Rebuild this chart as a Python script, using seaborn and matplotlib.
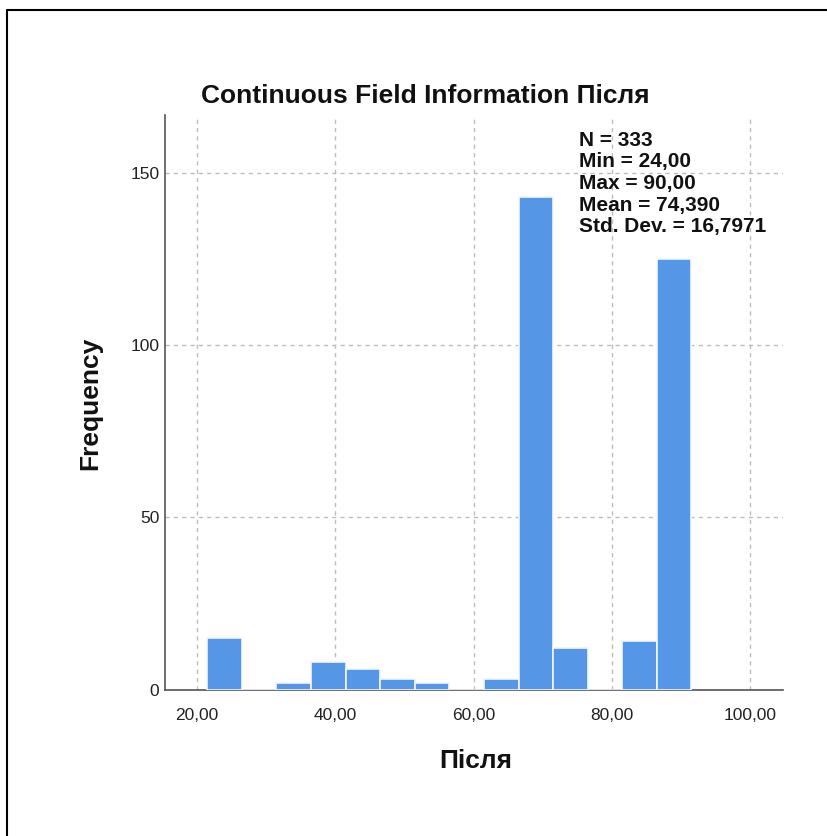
import matplotlib
matplotlib.use("Agg")
import matplotlib.pyplot as plt
import seaborn as sns
from matplotlib.lines import Line2D

# ---- data ----
bin_edges = [21.5, 26.5, 31.5, 36.5, 41.5, 46.5, 51.5, 56.5, 61.5, 66.5, 71.5, 76.5, 81.5, 86.5, 91.5]
bin_mids = [24, 29, 34, 39, 44, 49, 54, 59, 64, 69, 74, 79, 84, 89]
counts = [15, 0, 2, 8, 6, 3, 2, 0, 3, 143, 12, 0, 14, 125]
x_ticks = [20, 40, 60, 80, 100]
x_tick_labels = ["20,00", "40,00", "60,00", "80,00", "100,00"]
y_ticks = [0, 50, 100, 150]
y_tick_labels = ["0", "50", "100", "150"]
stats_lines = ["N = 333", "Min = 24,00", "Max = 90,00", "Mean = 74,390", "Std. Dev. = 16,7971"]
title = "Continuous Field Information Після"
x_label = "Після"
y_label = "Frequency"

sns.set_style("white")
plt.rcParams['font.family'] = ['Liberation Sans', 'DejaVu Sans']

W, H = 828, 836
fig = plt.figure(figsize=(W / 100, H / 100), dpi=100)
ax = fig.add_axes([165 / W, 1 - 689.5 / H, (783.5 - 165) / W, (689.5 - 115) / H])

sns.histplot(x=bin_mids, weights=counts, bins=bin_edges, ax=ax,
             color="#5596E6", edgecolor="#F2F6FC", linewidth=1.2, alpha=1.0, zorder=3)

ax.set_xlim(15.4, 104.8)
ax.set_ylim(0, 166.8)
ax.set_xticks(x_ticks)
ax.set_xticklabels(x_tick_labels)
ax.set_yticks(y_ticks)
ax.set_yticklabels(y_tick_labels)
ax.tick_params(axis='both', length=0, labelsize=12.5, labelcolor="#222222")
ax.tick_params(axis='x', pad=13)
ax.tick_params(axis='y', pad=4)
ax.set_xlabel("")
ax.set_ylabel("")

ax.grid(True, color="#BDBDBD", linestyle=(0, (3, 3)), linewidth=1.0, zorder=0)
ax.set_axisbelow(True)
for s in ["top", "right"]:
    ax.spines[s].set_visible(False)
for s in ["left", "bottom"]:
    ax.spines[s].set_color("#555555")
    ax.spines[s].set_linewidth(1.2)

fig.text(425.5 / W, 1 - 103 / H, title, ha="center", va="baseline",
         fontsize=19, fontweight="bold", color="#111111")
fig.text(90 / W, 1 - 403 / H, y_label, ha="center", va="center", rotation=90,
         fontsize=19, fontweight="bold", color="#111111")
fig.text(475.5 / W, 1 - 768 / H, x_label, ha="center", va="baseline",
         fontsize=19, fontweight="bold", color="#111111")

baselines = [146, 167.5, 189, 210.5, 232]
for line, yb in zip(stats_lines, baselines):
    fig.text(579 / W, 1 - yb / H, line, ha="left", va="baseline",
             fontsize=15, fontweight="bold", color="#111111")

# figure frame (top and left edges)
fig.add_artist(Line2D([7 / W, 7 / W], [0, 1 - 10 / H], transform=fig.transFigure, color="black", lw=1.5))
fig.add_artist(Line2D([7 / W, 1], [1 - 10 / H, 1 - 10 / H], transform=fig.transFigure, color="black", lw=1.5))

fig.savefig("out.png", dpi=100)
